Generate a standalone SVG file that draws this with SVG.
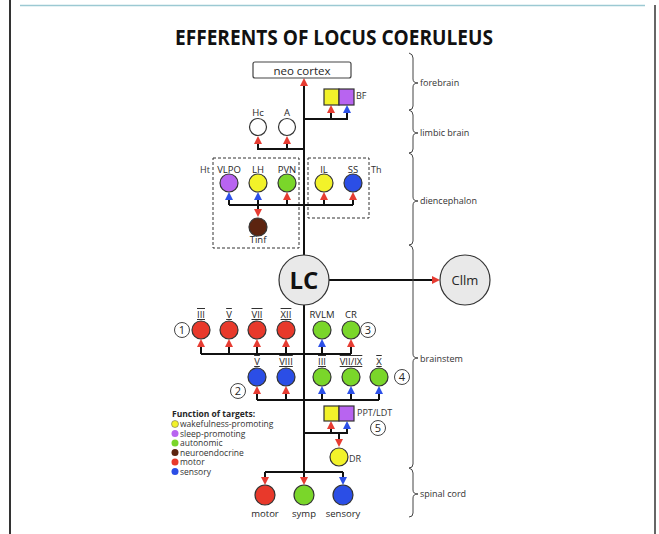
<svg xmlns="http://www.w3.org/2000/svg" width="659" height="534" viewBox="0 0 659 534">
<style>
text{font-family:"Open Sans","Liberation Sans",sans-serif;fill:#262626}
.lbl{font-size:9.5px;text-anchor:middle;fill:#262626}
.rom{font-size:9.5px;text-anchor:middle;text-decoration:overline underline;fill:#262626}
.reg{font-size:9px;fill:#333}
.leg{font-size:8.5px;fill:#333}
.nd{stroke:#333;stroke-width:1.2}
.red{fill:#e8392b}.blue{fill:#2b4ee6}.green{fill:#7ad62a}.yellow{fill:#f2f22a}.purple{fill:#b864f0}.brown{fill:#5c2410}.white{fill:#fff}.grey{fill:#e9e9e9}
.ln{fill:none;stroke:#111;stroke-width:2}
.ra{marker-end:url(#ar)}.ba{marker-end:url(#ab)}
.num{fill:#fff;stroke:#444;stroke-width:1}
.numt{font-size:11px;text-anchor:middle;fill:#262626}
.brace{fill:none;stroke:#444;stroke-width:1}
.dash{fill:none;stroke:#333;stroke-width:1;stroke-dasharray:3 2}
</style>
<defs>
<marker id="ar" viewBox="0 0 10 10" refX="5" refY="5" markerWidth="8" markerHeight="8" markerUnits="userSpaceOnUse" orient="auto"><path d="M0,0L10,5L0,10z" fill="#e63c32"/></marker>
<marker id="ab" viewBox="0 0 10 10" refX="5" refY="5" markerWidth="8" markerHeight="8" markerUnits="userSpaceOnUse" orient="auto"><path d="M0,0L10,5L0,10z" fill="#2c50e8"/></marker>
</defs>
<rect width="659" height="534" fill="#fff"/>
<line x1="10" y1="0" x2="10" y2="534" stroke="#333" stroke-width="2"/>
<line x1="655" y1="5" x2="655" y2="534" stroke="#333" stroke-width="1.5"/>
<line x1="20" y1="5.5" x2="645" y2="5.5" stroke="#9cc9d3" stroke-width="1.5"/>
<text x="334" y="45" font-size="21" font-weight="bold" text-anchor="middle" textLength="318" lengthAdjust="spacingAndGlyphs" style="fill:#111">EFFERENTS OF LOCUS COERULEUS</text>

<g id="boxes">
<rect class="dash" x="213" y="158" width="86" height="90"/>
<rect class="dash" x="308" y="158" width="61" height="60"/>
<text class="reg" x="200" y="173">Ht</text>
<text class="reg" x="371" y="173">Th</text>
</g>

<g id="connectors">
<path class="ln ra" d="M304,472V82"/>
<path class="ln ba" d="M304,119H347V109"/>
<path class="ln ra" d="M331,119V109"/>
<path class="ln ra" d="M304,149H258V140"/>
<path class="ln ra" d="M287,149V140"/>
<path class="ln" d="M229,205H353"/>
<path class="ln ba" d="M229,205V196"/>
<path class="ln ba" d="M258,205V196"/>
<path class="ln ra" d="M287,205V196"/>
<path class="ln ra" d="M324,205V196"/>
<path class="ln ra" d="M353,205V196"/>
<path class="ln ra" d="M258,205V213"/>
<path class="ln ra" d="M329,280H436"/>
<path class="ln" d="M201,354H351"/>
<path class="ln ra" d="M201,354V343"/>
<path class="ln ra" d="M229,354V343"/>
<path class="ln ra" d="M257,354V343"/>
<path class="ln ra" d="M286,354V343"/>
<path class="ln ba" d="M322,354V343"/>
<path class="ln ra" d="M351,354V343"/>
<path class="ln" d="M257,400H379"/>
<path class="ln ra" d="M257,400V390"/>
<path class="ln ra" d="M286,400V390"/>
<path class="ln ba" d="M322,400V390"/>
<path class="ln ba" d="M351,400V390"/>
<path class="ln ba" d="M379,400V390"/>
<path class="ln ba" d="M304,433H347V425"/>
<path class="ln ra" d="M331,433V425"/>
<path class="ln ra" d="M339,433V443"/>
<path class="ln" d="M265,472H343"/>
<path class="ln ra" d="M265,472V481"/>
<path class="ln ra" d="M304,472V481"/>
<path class="ln ba" d="M343,472V481"/>
</g>

<g id="neocortex">
<rect x="253" y="62" width="98" height="16" rx="2" fill="#fff" stroke="#444" stroke-width="1.2"/>
<text x="302" y="74.5" font-size="11.5" text-anchor="middle">neo cortex</text>
</g>
<g id="BF">
<rect class="nd yellow" x="324" y="89" width="15" height="16"/>
<rect class="nd purple" x="339" y="89" width="15" height="16"/>
<text class="reg" x="356" y="99">BF</text>
</g>
<g id="Hc"><circle class="nd white" cx="258" cy="127" r="8.5"/><text class="lbl" x="258" y="116">Hc</text></g>
<g id="A"><circle class="nd white" cx="287" cy="127" r="8.5"/><text class="lbl" x="287" y="116">A</text></g>

<g id="VLPO"><circle class="nd purple" cx="229" cy="183" r="9"/><text class="lbl" x="229" y="173">VLPO</text></g>
<g id="LH"><circle class="nd yellow" cx="258" cy="183" r="9"/><text class="lbl" x="258" y="173">LH</text></g>
<g id="PVN"><circle class="nd green" cx="287" cy="183" r="9"/><text class="lbl" x="287" y="173">PVN</text></g>
<g id="IL"><circle class="nd yellow" cx="324" cy="183" r="9"/><text class="lbl" x="324" y="173">IL</text></g>
<g id="SS"><circle class="nd blue" cx="353" cy="183" r="9"/><text class="lbl" x="353" y="173">SS</text></g>
<g id="Tinf"><circle class="nd brown" cx="258" cy="227" r="9"/><text class="lbl" x="258" y="243">Tinf</text></g>

<g id="LC"><circle class="nd grey" cx="304" cy="280" r="25"/><text x="304" y="289" font-size="24" font-weight="bold" text-anchor="middle" style="fill:#111">LC</text></g>
<g id="CIIm"><circle class="nd grey" cx="465" cy="280" r="25"/><text x="465" y="285" font-size="13" text-anchor="middle">Cllm</text></g>

<g id="n1"><circle class="num" cx="182" cy="330" r="7.5"/><text class="numt" x="182" y="334">1</text></g>
<g id="III1"><circle class="nd red" cx="201" cy="330" r="9"/><text class="rom" x="201" y="318">III</text></g>
<g id="V1"><circle class="nd red" cx="229" cy="330" r="9"/><text class="rom" x="229" y="318">V</text></g>
<g id="VII1"><circle class="nd red" cx="257" cy="330" r="9"/><text class="rom" x="257" y="318">VII</text></g>
<g id="XII1"><circle class="nd red" cx="286" cy="330" r="9"/><text class="rom" x="286" y="318">XII</text></g>
<g id="RVLM"><circle class="nd green" cx="322" cy="330" r="9"/><text class="lbl" x="322" y="318">RVLM</text></g>
<g id="CR"><circle class="nd green" cx="351" cy="330" r="9"/><text class="lbl" x="351" y="318">CR</text></g>
<g id="n3"><circle class="num" cx="368" cy="330" r="7.5"/><text class="numt" x="368" y="334">3</text></g>

<g id="n2"><circle class="num" cx="238" cy="391" r="7.5"/><text class="numt" x="238" y="395">2</text></g>
<g id="V2"><circle class="nd blue" cx="257" cy="377" r="9"/><text class="rom" x="257" y="365">V</text></g>
<g id="VIII2"><circle class="nd blue" cx="286" cy="377" r="9"/><text class="rom" x="286" y="365">VIII</text></g>
<g id="III2"><circle class="nd green" cx="322" cy="377" r="9"/><text class="rom" x="322" y="365">III</text></g>
<g id="VIIIX2"><circle class="nd green" cx="351" cy="377" r="9"/><text class="rom" x="351" y="365">VII/IX</text></g>
<g id="X2"><circle class="nd green" cx="379" cy="377" r="9"/><text class="rom" x="379" y="365">X</text></g>
<g id="n4"><circle class="num" cx="402" cy="377" r="7.5"/><text class="numt" x="402" y="381">4</text></g>

<g id="PPTLDT">
<rect class="nd yellow" x="324" y="406" width="15" height="15"/>
<rect class="nd purple" x="339" y="406" width="15" height="15"/>
<text class="reg" x="357" y="416" font-size="10">PPT/LDT</text>
</g>
<g id="n5"><circle class="num" cx="378" cy="428" r="7.5"/><text class="numt" x="378" y="432">5</text></g>
<g id="DR"><circle class="nd yellow" cx="339" cy="457" r="9"/><text class="reg" x="349" y="462">DR</text></g>

<g id="motor"><circle class="nd red" cx="265" cy="495" r="10"/><text class="lbl" x="265" y="517">motor</text></g>
<g id="symp"><circle class="nd green" cx="304" cy="495" r="10"/><text class="lbl" x="304" y="517">symp</text></g>
<g id="sensory"><circle class="nd blue" cx="343" cy="495" r="10"/><text class="lbl" x="343" y="517">sensory</text></g>

<g id="legend">
<text x="172" y="417" font-size="8.5" font-weight="bold" style="fill:#262626">Function of targets:</text>
<circle class="yellow" cx="175" cy="424" r="3.5" stroke="#555" stroke-width="0.5"/><text class="leg" x="180" y="427">wakefulness-promoting</text>
<circle class="purple" cx="175" cy="433.5" r="3.5"/><text class="leg" x="180" y="436.5">sleep-promoting</text>
<circle class="green" cx="175" cy="443" r="3.5"/><text class="leg" x="180" y="446">autonomic</text>
<circle class="brown" cx="175" cy="452.5" r="3.5"/><text class="leg" x="180" y="455.5">neuroendocrine</text>
<circle class="red" cx="175" cy="462" r="3.5"/><text class="leg" x="180" y="465">motor</text>
<circle class="blue" cx="175" cy="471.5" r="3.5"/><text class="leg" x="180" y="474.5">sensory</text>
</g>

<g id="regions">
<path class="brace" d="M409,53Q413,54 413,58V79Q413,83 418,83Q413,83 413,87V106Q413,110 409,110"/>
<path class="brace" d="M409,110Q413,111 413,115V129Q413,133 418,133Q413,133 413,137V149Q413,153 409,153"/>
<path class="brace" d="M409,153Q413,154 413,158V197Q413,201 418,201Q413,201 413,205V241Q413,245 409,245"/>
<path class="brace" d="M409,245Q413,246 413,250V354Q413,358 418,358Q413,358 413,362V464Q413,468 409,468"/>
<path class="brace" d="M409,468Q413,469 413,473V490Q413,494 418,494Q413,494 413,498V513Q413,517 409,517"/>
<text class="reg" x="420" y="86">forebrain</text>
<text class="reg" x="420" y="136">limbic brain</text>
<text class="reg" x="420" y="204">diencephalon</text>
<text class="reg" x="420" y="362">brainstem</text>
<text class="reg" x="420" y="497">spinal cord</text>
</g>
</svg>
